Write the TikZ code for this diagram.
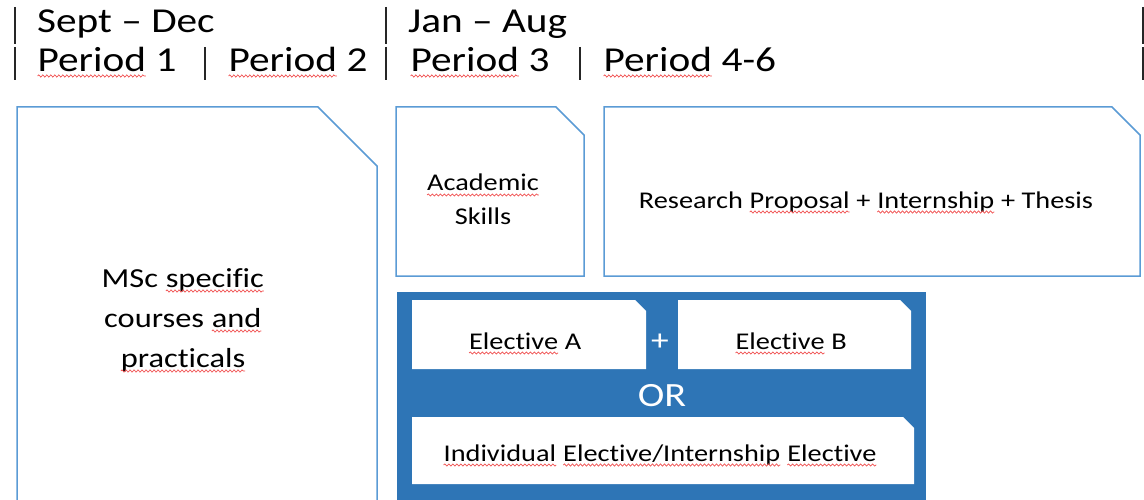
\documentclass[tikz,border=0pt]{standalone}
\usepackage{fontspec}
\setmainfont{Carlito}[FakeStretch=1.18,Ligatures=NoCommon]
\usetikzlibrary{decorations.pathmorphing}

\definecolor{lineblue}{HTML}{5B9BD5}
\definecolor{panelblue}{HTML}{2E75B6}
\definecolor{wavered}{HTML}{F05050}

\tikzset{squiggle/.style={draw=wavered,line width=0.7pt,decorate,decoration={snake,amplitude=1.1pt,segment length=4pt}}}
\newcommand{\sq}[1]{\tikz[baseline=(sqw.base)]{\node[inner sep=0pt,outer sep=0pt,anchor=base](sqw){#1};\draw[squiggle]([yshift=-4pt]sqw.base west)--([yshift=-4pt]sqw.base east);}}

\begin{document}
\begin{tikzpicture}[x=1pt,y=-1pt,
  head/.style={anchor=base west,inner sep=0pt,font=\fontsize{35}{37}\selectfont},
  bar/.style={line width=2.8pt,color=black!85},
  cutbox/.style={draw=lineblue,line width=1.5pt},
  txt/.style={anchor=base,inner sep=0pt,align=center,font=\fontsize{24}{34}\selectfont}]

\clip (0,0) rectangle (1144,500);

% header
\node[head] (sd) at (37,33) {Sept -- Dec};
\node[head] (ja) at (408,33) {Jan -- Aug};
\node[head] (p1) at (37,72) {\sq{Period} 1};
\node[head] (p2) at (228,72) {\sq{Period} 2};
\node[head] (p3) at (410,72) {\sq{Period} 3};
\node[head] (p4) at (603,72) {\sq{Period} 4-6};
\foreach \x in {15,386,1143} \draw[bar] (\x,7) -- (\x,44);
\foreach \x in {15,205,386,580,1143} \draw[bar] (\x,47) -- (\x,80);

% boxes
\draw[cutbox] (17,107) -- (318,107) -- (377,166) -- (377,540) -- (17,540) -- cycle;
\draw[cutbox] (396,107) -- (556,107) -- (584,135) -- (584,276) -- (396,276) -- cycle;
\draw[cutbox] (604,107) -- (1112,107) -- (1140,135) -- (1140,276) -- (604,276) -- cycle;

\node[txt,font=\fontsize{27.5}{40}\selectfont] (msc) at (183,367) {MSc \sq{specific}\\courses \sq{and}\\\sq{practicals}};
\node[txt] (acad) at (483,225) {\sq{Academic}\\Skills};
\node[txt] (rpit) at (866,208) {Research \sq{Proposal} + \sq{Internship} + Thesis};

% electives
\fill[panelblue] (397,292) rectangle (926,510);
\fill[white] (412,300) -- (635,300) -- (646,311) -- (646,369) -- (412,369) -- cycle;
\fill[white] (678,300) -- (900,300) -- (911,311) -- (911,369) -- (678,369) -- cycle;
\fill[white] (412,417) -- (903,417) -- (914,428) -- (914,484) -- (412,484) -- cycle;

\node[txt] (ea) at (525,349) {\sq{Elective} A};
\node[txt] (eb) at (791,349) {\sq{Elective} B};
\node[txt,text=white,font=\fontsize{30}{30}\selectfont] (plus) at (660,350) {+};
\node[txt,text=white,font=\fontsize{34}{34}\selectfont] (or) at (662,406) {OR};
\node[txt] (ie) at (660,461) {\sq{Individual} \sq{Elective/Internship} \sq{Elective}};
\end{tikzpicture}
\end{document}
